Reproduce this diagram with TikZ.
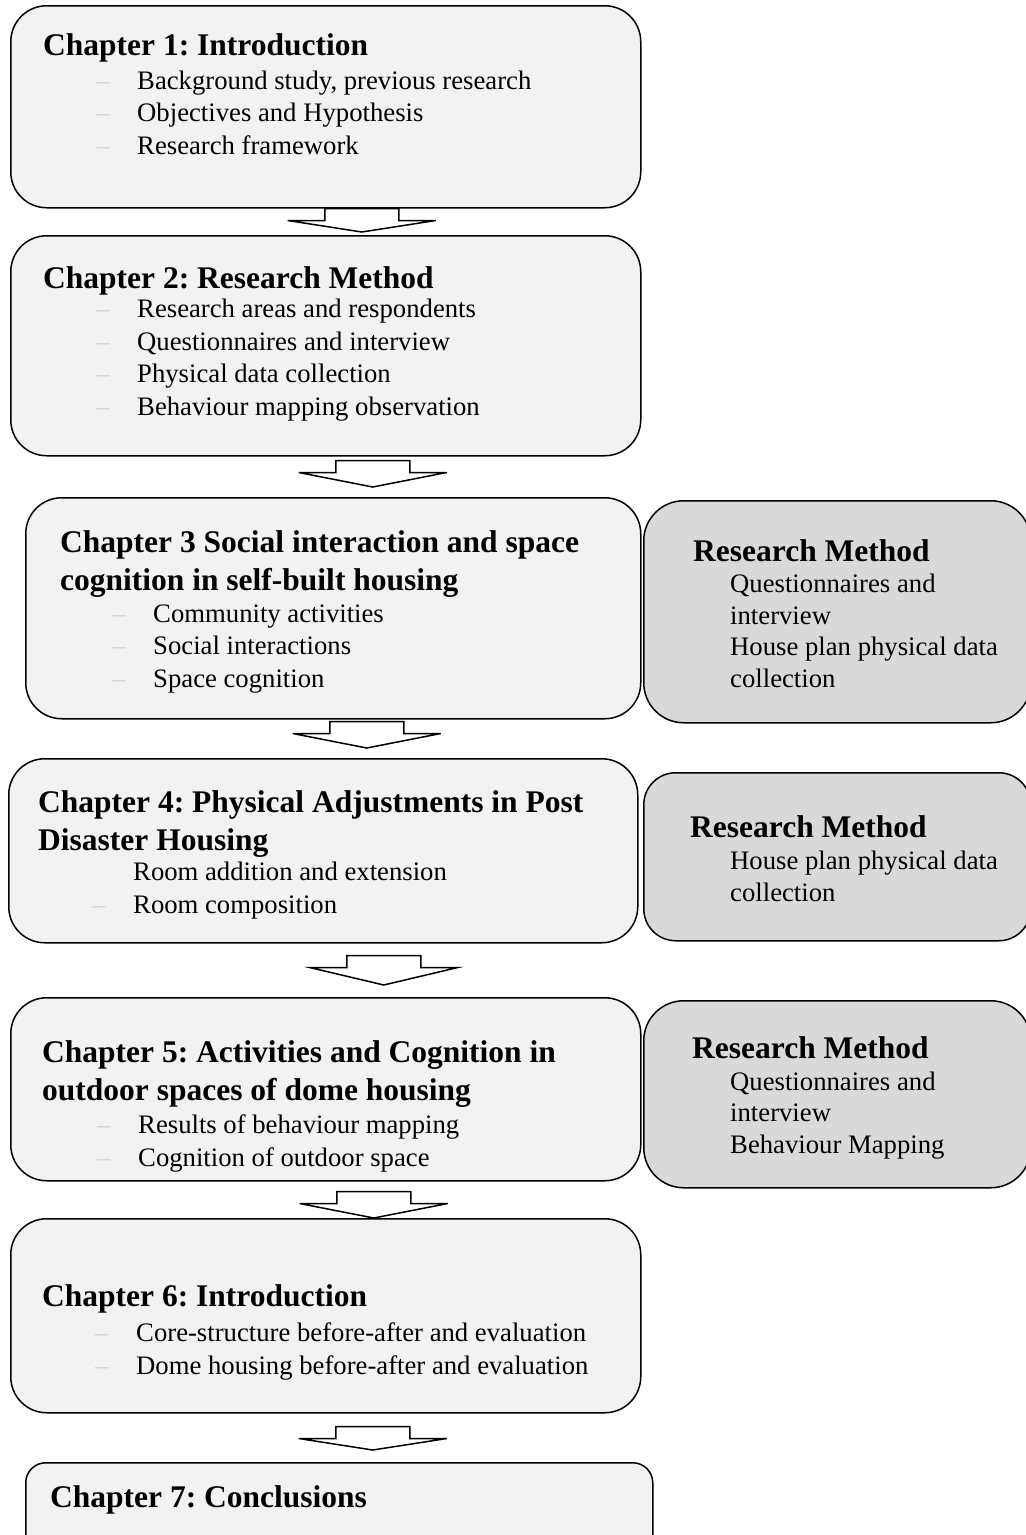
\documentclass[tikz,border=0pt]{standalone}
\usepackage{fontspec}
\setmainfont{Liberation Serif}
\usepackage{tikz}
\usetikzlibrary{positioning}
\usetikzlibrary{calc}
\usepackage{xcolor}
\definecolor{boxgrey}{HTML}{F2F2F2}
\definecolor{methodgrey}{HTML}{D9D9D9}
\definecolor{dashgrey}{HTML}{D4D4D4}
\frenchspacing
\newcommand\itm[1]{\makebox[41pt][l]{\textcolor{dashgrey}{\textendash}}#1}
\newcommand\flowarrow[2]{
  \draw[arrowbody] ($(#1)+(-37,0)$) -- ++(74,0) -- ++(0,12) -- ++(37,0) -- (#2) -- ($(#1)+(-74,12)$) -- ++(37,0) -- cycle;
}

\begin{document}
\begin{tikzpicture}[x=1pt, y=-1pt,
	chapbox/.style={draw, line width=1.5pt, fill=boxgrey, rounded corners=36pt, inner sep=0, anchor=north west},
	methodbox/.style={chapbox, fill=methodgrey, rounded corners=40pt},
	chaptitle/.style={font=\bfseries\fontsize{31.5}{37.5}\selectfont, anchor=base west, inner sep=0, align=left},
	itemlist/.style={font=\fontsize{26.7}{32.5}\selectfont, anchor=base west, inner sep=0, align=left},
	methodlist/.style={itemlist, font=\fontsize{26.7}{31.5}\selectfont},
	arrowbody/.style={draw, fill=white, line width=1.5pt, line join=miter}]
			\clip (0,0) rectangle (1026,1535);
			% chapter boxes
			\node[chapbox, minimum width=630pt, minimum height=202pt] (ch1) at (10,5) {};
			\node[chapbox, minimum width=630pt, minimum height=220pt] (ch2) at (10,235) {};
			\node[chapbox, minimum width=615pt, minimum height=221pt] (ch3) at (25,497) {};
			\node[chapbox, minimum width=629pt, minimum height=184pt] (ch4) at (8,758) {};
			\node[chapbox, minimum width=630pt, minimum height=183pt] (ch5) at (10,997) {};
			\node[chapbox, minimum width=630pt, minimum height=194pt] (ch6) at (10,1218) {};
			\node[chapbox, rounded corners=20pt, minimum width=627pt, minimum height=110pt] (ch7) at (25,1462) {};
			% research method boxes
			\node[methodbox, minimum width=387pt, minimum height=222pt] (rm3) at (643,500) {};
			\node[methodbox, rounded corners=32pt, minimum width=387pt, minimum height=168pt] (rm4) at (643,772) {};
			\node[methodbox, minimum width=387pt, minimum height=187pt] (rm5) at (643,1000) {};
			% texts (multi-line nodes sit on their last baseline)
			\node[chaptitle] (ch1title) at (43,55) {Chapter 1: Introduction};
			\node[itemlist] (ch1items) at (96,154) {\itm{Background study, previous research}\\\itm{Objectives and Hypothesis}\\\itm{Research framework}};
			\node[chaptitle] (ch2title) at (43,288) {Chapter 2: Research Method};
			\node[itemlist] (ch2items) at (96,415) {\itm{Research areas and respondents}\\\itm{Questionnaires and interview}\\\itm{Physical data collection}\\\itm{Behaviour mapping observation}};
			\node[chaptitle] (ch3title) at (60,590) {Chapter 3 Social interaction and space\\cognition in self-built housing};
			\node[itemlist] (ch3items) at (112,687) {\itm{Community activities}\\\itm{Social interactions}\\\itm{Space cognition}};
			\node[chaptitle] (ch4title) at (38,850) {Chapter 4: Physical Adjustments in Post\\Disaster Housing};
			\node[itemlist] (ch4items) at (92,913) {\hspace*{41pt}Room addition and extension\\\itm{Room composition}};
			\node[chaptitle] (ch5title) at (42,1100) {Chapter 5: Activities and Cognition in\\outdoor spaces of dome housing};
			\node[itemlist] (ch5items) at (97,1166) {\itm{Results of behaviour mapping}\\\itm{Cognition of outdoor space}};
			\node[chaptitle] (ch6title) at (42,1306) {Chapter 6: Introduction};
			\node[itemlist] (ch6items) at (95,1374) {\itm{Core-structure before-after and evaluation}\\\itm{Dome housing before-after and evaluation}};
			\node[chaptitle] (ch7title) at (50,1507) {Chapter 7: Conclusions};
			\node[chaptitle] (rm3title) at (693,561) {Research Method};
			\node[methodlist] (rm3items) at (730,687) {Questionnaires and\\interview\\House plan physical data\\collection};
			\node[chaptitle] (rm4title) at (690,837) {Research Method};
			\node[methodlist] (rm4items) at (730,901) {House plan physical data\\collection};
			\node[chaptitle] (rm5title) at (692,1058) {Research Method};
			\node[methodlist] (rm5items) at (730,1153) {Questionnaires and\\interview\\Behaviour Mapping};
			% block arrows between chapters
			\coordinate (t1) at ($(ch1.south)+(36,0)$);
			\coordinate (b1) at ($(ch2.north)+(36,-3)$);
			\coordinate (t2) at ($(ch2.south)+(47,4)$);
			\coordinate (b2) at ($(ch3.north)+(39.5,-10)$);
			\coordinate (t3) at ($(ch3.south)+(33.5,2)$);
			\coordinate (b3) at ($(ch4.north)+(43.5,-10)$);
			\coordinate (t4) at ($(ch4.south)+(60.5,12)$);
			\coordinate (b4) at ($(ch5.north)+(58,-12)$);
			\coordinate (t5) at ($(ch5.south)+(48,10)$);
			\coordinate (b5) at ($(ch6.north)+(48,0)$);
			\coordinate (t6) at ($(ch6.south)+(47,13)$);
			\coordinate (b6) at ($(ch7.north)+(33.5,-12)$);
			\flowarrow{t1}{b1}
			\flowarrow{t2}{b2}
			\flowarrow{t3}{b3}
			\flowarrow{t4}{b4}
			\flowarrow{t5}{b5}
			\flowarrow{t6}{b6}
\end{tikzpicture}
\end{document}
